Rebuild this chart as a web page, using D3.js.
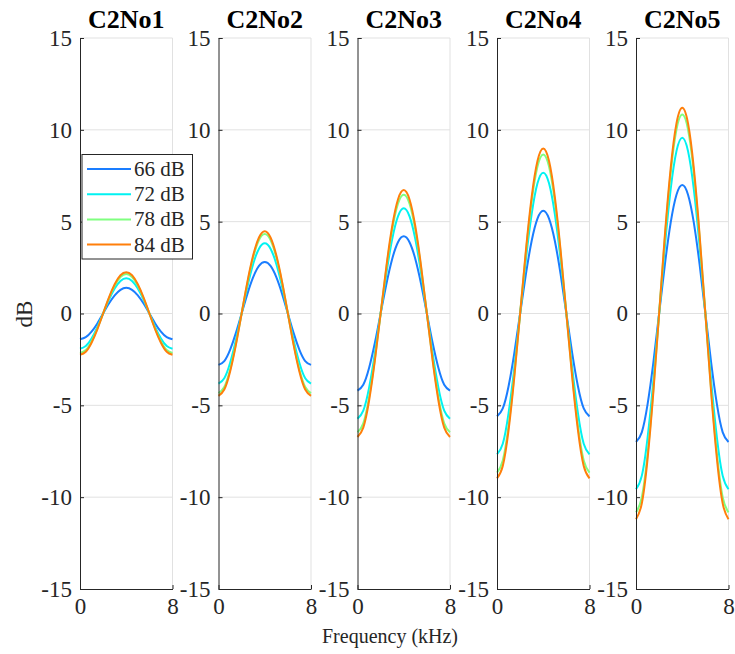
<!DOCTYPE html>
<html>
<head>
<meta charset="utf-8">
<script src="https://cdn.jsdelivr.net/npm/d3@7"></script>
<style>
body { margin: 0; background: #fff; }
svg text { font-family: "Times New Roman", "Liberation Serif", Times, "DejaVu Serif", serif; fill: #262626; }
</style>
</head>
<body>
<svg id="chart" width="735" height="654"></svg>
<script>
// ---------- data ----------
const panels = ["C2No1", "C2No2", "C2No3", "C2No4", "C2No5"];
const levels = ["66 dB", "72 dB", "78 dB", "84 dB"];
const freqs = [0, 0.5, 1, 1.5, 2, 2.5, 3, 3.5, 4, 4.5, 5, 5.5, 6, 6.5, 7, 7.5, 8];
const yTicks = [-15, -10, -5, 0, 5, 10, 15];
const xTicks = [0, 8];

// C2No1
const p1_66 = [-1.40,-1.29,-0.99,-0.54,0,0.54,0.99,1.29,1.40,1.29,0.99,0.54,0,-0.54,-0.99,-1.29,-1.40];
const p1_72 = [-1.92,-1.77,-1.36,-0.74,0,0.74,1.36,1.77,1.92,1.77,1.36,0.74,0,-0.74,-1.36,-1.77,-1.92];
const p1_78 = [-2.15,-1.99,-1.52,-0.82,0,0.82,1.52,1.99,2.15,1.99,1.52,0.82,0,-0.82,-1.52,-1.99,-2.15];
const p1_84 = [-2.25,-2.08,-1.59,-0.86,0,0.86,1.59,2.08,2.25,2.08,1.59,0.86,0,-0.86,-1.59,-2.08,-2.25];
// C2No2
const p2_66 = [-2.80,-2.59,-1.98,-1.07,0,1.07,1.98,2.59,2.80,2.59,1.98,1.07,0,-1.07,-1.98,-2.59,-2.80];
const p2_72 = [-3.82,-3.53,-2.70,-1.46,0,1.46,2.70,3.53,3.82,3.53,2.70,1.46,0,-1.46,-2.70,-3.53,-3.82];
const p2_78 = [-4.33,-4.00,-3.06,-1.66,0,1.66,3.06,4.00,4.33,4.00,3.06,1.66,0,-1.66,-3.06,-4.00,-4.33];
const p2_84 = [-4.48,-4.14,-3.17,-1.72,0,1.72,3.17,4.14,4.48,4.14,3.17,1.72,0,-1.72,-3.17,-4.14,-4.48];
// C2No3
const p3_66 = [-4.20,-3.88,-2.97,-1.61,0,1.61,2.97,3.88,4.20,3.88,2.97,1.61,0,-1.61,-2.97,-3.88,-4.20];
const p3_72 = [-5.73,-5.29,-4.05,-2.19,0,2.19,4.05,5.29,5.73,5.29,4.05,2.19,0,-2.19,-4.05,-5.29,-5.73];
const p3_78 = [-6.47,-5.98,-4.57,-2.48,0,2.48,4.57,5.98,6.47,5.98,4.57,2.48,0,-2.48,-4.57,-5.98,-6.47];
const p3_84 = [-6.72,-6.21,-4.75,-2.57,0,2.57,4.75,6.21,6.72,6.21,4.75,2.57,0,-2.57,-4.75,-6.21,-6.72];
// C2No4
const p4_66 = [-5.60,-5.17,-3.96,-2.14,0,2.14,3.96,5.17,5.60,5.17,3.96,2.14,0,-2.14,-3.96,-5.17,-5.60];
const p4_72 = [-7.67,-7.09,-5.42,-2.94,0,2.94,5.42,7.09,7.67,7.09,5.42,2.94,0,-2.94,-5.42,-7.09,-7.67];
const p4_78 = [-8.66,-8.00,-6.12,-3.32,0,3.32,6.12,8.00,8.66,8.00,6.12,3.32,0,-3.32,-6.12,-8.00,-8.66];
const p4_84 = [-8.98,-8.30,-6.35,-3.44,0,3.44,6.35,8.30,8.98,8.30,6.35,3.44,0,-3.44,-6.35,-8.30,-8.98];
// C2No5
const p5_66 = [-7.00,-6.47,-4.95,-2.68,0,2.68,4.95,6.47,7.00,6.47,4.95,2.68,0,-2.68,-4.95,-6.47,-7.00];
const p5_72 = [-9.57,-8.84,-6.77,-3.67,0,3.67,6.77,8.84,9.57,8.84,6.77,3.67,0,-3.67,-6.77,-8.84,-9.57];
const p5_78 = [-10.83,-10.01,-7.66,-4.15,0,4.15,7.66,10.01,10.83,10.01,7.66,4.15,0,-4.15,-7.66,-10.01,-10.83];
const p5_84 = [-11.20,-10.35,-7.92,-4.29,0,4.29,7.92,10.35,11.20,10.35,7.92,4.29,0,-4.29,-7.92,-10.35,-11.20];

const panelSeries = [
  [p1_66, p1_72, p1_78, p1_84],
  [p2_66, p2_72, p2_78, p2_84],
  [p3_66, p3_72, p3_78, p3_84],
  [p4_66, p4_72, p4_78, p4_84],
  [p5_66, p5_72, p5_78, p5_84]
];

// ---------- layout ----------
const FONT = '"Times New Roman", "Liberation Serif", Times, "DejaVu Serif", serif';
const colors = ["#1a7dff", "#00f2f2", "#80ff80", "#ff7f0a"];
const panelLeft = [80, 218.5, 357.5, 497, 636];
const panelW = 92.5;
const plotTop = 38, plotBottom = 589;

const svg = d3.select("#chart");
const y = d3.scaleLinear().domain([-15, 15]).range([plotBottom, plotTop]);

panels.forEach((name, i) => {
  const x = d3.scaleLinear().domain([0, 8]).range([panelLeft[i], panelLeft[i] + panelW]);
  const g = svg.append("g");

  // grid
  g.selectAll("line.hg").data(yTicks.filter(d => d > -15)).join("line")
    .attr("x1", x(0)).attr("x2", x(8))
    .attr("y1", d => y(d)).attr("y2", d => y(d))
    .attr("stroke", "#e1e1e1").attr("stroke-width", 1);
  g.selectAll("line.vg").data([8]).join("line")
    .attr("x1", d => x(d)).attr("x2", d => x(d))
    .attr("y1", y(-15)).attr("y2", y(15))
    .attr("stroke", "#e1e1e1").attr("stroke-width", 1);

  // lines
  const line = d3.line().x((d, k) => x(freqs[k])).y(d => y(d)).curve(d3.curveNatural);
  panelSeries[i].forEach((s, j) => {
    g.append("path").datum(s).attr("d", line)
      .attr("fill", "none").attr("stroke", colors[j]).attr("stroke-width", 2);
  });

  // y axis
  const yAxis = d3.axisLeft(y).tickValues(yTicks).tickSize(-4).tickPadding(8)
    .tickFormat(d => d < 0 ? "-" + Math.abs(d) : d);
  const ya = g.append("g").attr("transform", `translate(${x(0)},0)`).call(yAxis)
    .attr("font-family", FONT).attr("font-size", 23);
  ya.select(".domain").attr("stroke", "#262626");
  ya.selectAll(".tick line").attr("stroke", "#262626");
  ya.selectAll("text").style("font-family", FONT).style("font-size", "23px").attr("fill", "#262626");

  // x axis
  const xAxis = d3.axisBottom(x).tickValues(xTicks).tickSize(-4).tickPadding(9).tickSizeOuter(0);
  const xa = g.append("g").attr("transform", `translate(0,${y(-15)})`).call(xAxis)
    .attr("font-family", FONT).attr("font-size", 23);
  xa.select(".domain").attr("stroke", "#262626");
  xa.selectAll(".tick line").attr("stroke", "#262626");
  xa.selectAll("text").style("font-family", FONT).style("font-size", "23px").attr("fill", "#262626");

  // title
  g.append("text").attr("x", x(4)).attr("y", 28).attr("text-anchor", "middle")
    .style("font-family", FONT).style("font-size", "26px").attr("font-weight", "bold")
    .style("fill", "#000").text(name);
});

// axis labels
svg.append("text").attr("transform", "translate(32,314) rotate(-90)")
  .attr("text-anchor", "middle").style("font-family", FONT).style("font-size", "23px").text("dB");
svg.append("text").attr("x", 390).attr("y", 643)
  .attr("text-anchor", "middle").style("font-family", FONT).style("font-size", "20px").text("Frequency (kHz)");

// legend
const lg = svg.append("g");
lg.append("rect").attr("x", 82).attr("y", 154.5).attr("width", 110.5).attr("height", 104.5)
  .attr("fill", "#fff").attr("stroke", "#262626").attr("stroke-width", 1);
levels.forEach((lab, j) => {
  const yy = 169 + j * 25.2;
  lg.append("line").attr("x1", 87).attr("x2", 131).attr("y1", yy).attr("y2", yy)
    .attr("stroke", colors[j]).attr("stroke-width", 2);
  lg.append("text").attr("x", 134).attr("y", yy + 7).style("font-family", FONT)
    .style("font-size", "21px").text(lab);
});
</script>
</body>
</html>
